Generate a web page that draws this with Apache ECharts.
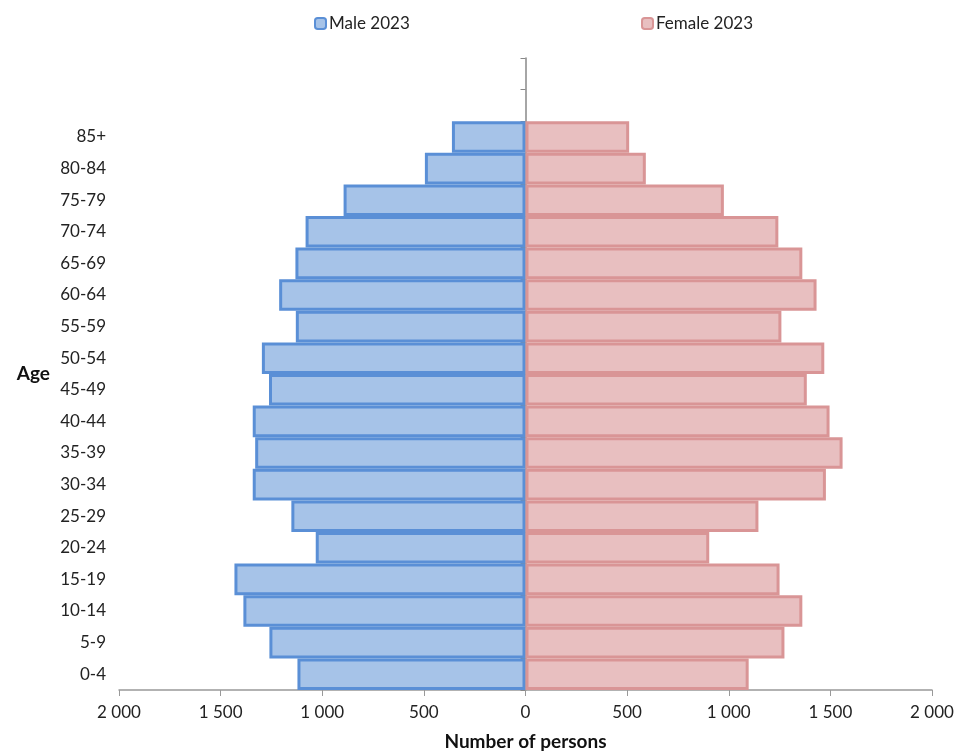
<!DOCTYPE html>
<html>
<head>
<meta charset="utf-8">
<script src="https://cdn.jsdelivr.net/npm/echarts@6/dist/echarts.min.js"></script>
<style>html,body{margin:0;padding:0;background:#fff}#c{width:960px;height:753px}</style>
</head>
<body>
<div id="c"></div>
<script>
const ageGroups = ['0-4','5-9','10-14','15-19','20-24','25-29','30-34','35-39','40-44','45-49','50-54','55-59','60-64','65-69','70-74','75-79','80-84','85+','',''];
const male2023 = [1122,1260,1388,1432,1032,1152,1342,1330,1342,1262,1297,1130,1212,1132,1082,895,495,362,null,null];
const female2023 = [1098,1274,1362,1250,904,1146,1478,1560,1496,1384,1470,1259,1432,1362,1244,976,592,510,null,null];
const xTicks = [-2000,-1500,-1000,-500,0,500,1000,1500,2000];

const FONT = 'Lato, "Open Sans", sans-serif';
function fmt(v){
  const a = Math.abs(v);
  return a >= 1000 ? Math.floor(a/1000) + ' ' + String(a%1000).padStart(3,'0') : String(a);
}
const chart = echarts.init(document.getElementById('c'));
chart.setOption({
  animation:false,
  textStyle:{fontFamily:FONT},
  legend:[
    {data:['Male 2023'], left:309, top:10, itemWidth:11, itemHeight:11, itemGap:4,
     textStyle:{fontFamily:FONT, fontSize:17, color:'#222', padding:[0,0,0,-2]}},
    {data:['Female 2023'], left:636, top:10, itemWidth:11, itemHeight:11,
     textStyle:{fontFamily:FONT, fontSize:17, color:'#222', padding:[0,0,0,-2]}}
  ],
  grid:{left:119, right:28, top:58, bottom:63, containLabel:false, outerBoundsMode:'none'},
  xAxis:{
    type:'value', min:-2000, max:2000, interval:500,
    name:'Number of persons', nameLocation:'middle', nameGap:42,
    nameTextStyle:{fontFamily:FONT, fontSize:19, fontWeight:'bold', color:'#111'},
    axisLine:{show:true, lineStyle:{color:'#999', width:1.5}},
    axisTick:{show:true, length:6, lineStyle:{color:'#999'}},
    axisLabel:{formatter:fmt, fontFamily:FONT, fontSize:17, color:'#222', margin:14},
    splitLine:{show:false}
  },
  yAxis:[
    {type:'category', data:ageGroups, position:'left',
     name:'Age', nameLocation:'middle', nameRotate:0, nameGap:69,
     nameTextStyle:{fontFamily:FONT, fontSize:19, fontWeight:'bold', color:'#111', align:'right'},
     axisLine:{show:false, onZero:false}, axisTick:{show:false},
     axisLabel:{fontFamily:FONT, fontSize:17, color:'#222', margin:13}},
    {type:'category', data:ageGroups, position:'left',
     axisLine:{show:true, onZero:true, lineStyle:{color:'#888', width:1.5}},
     axisTick:{show:true, length:5, lineStyle:{color:'#888'}},
     axisLabel:{show:false}}
  ],
  series:[
    {name:'Male 2023', type:'bar', yAxisIndex:0, stack:'p', barCategoryGap:0,
     data:male2023.map(v => v == null ? null : -v),
     itemStyle:{color:'#a6c3e8', borderColor:'#5a8fd6', borderWidth:3}},
    {name:'Female 2023', type:'bar', yAxisIndex:0, stack:'p', barCategoryGap:0,
     data:female2023,
     itemStyle:{color:'#e8bfc0', borderColor:'#d99596', borderWidth:3}}
  ]
});
</script>
</body>
</html>
